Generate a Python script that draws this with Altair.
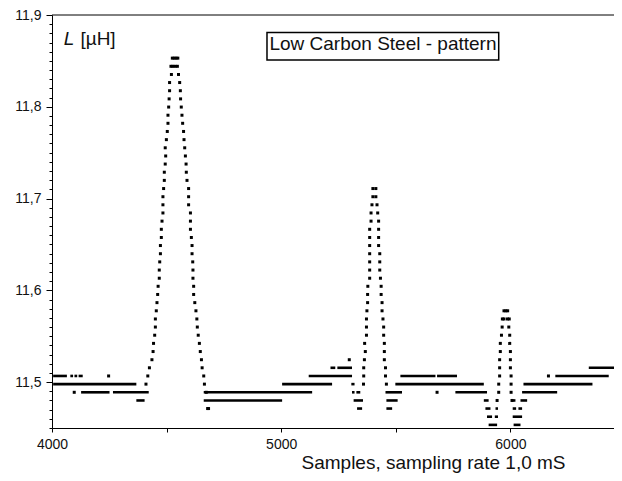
import altair as alt
import pandas as pd

# Quantised inductance levels [µH], index 0 = top of peak 1
LEVELS = [11.8530, 11.8441, 11.8352, 11.8264, 11.8175, 11.8086, 11.7997, 11.7908, 11.7820, 11.7731,
          11.7642, 11.7553, 11.7464, 11.7376, 11.7287, 11.7198, 11.7109, 11.7020, 11.6932, 11.6843,
          11.6754, 11.6665, 11.6576, 11.6488, 11.6399, 11.6310, 11.6221, 11.6132, 11.6044, 11.5955,
          11.5866, 11.5777, 11.5688, 11.5600, 11.5511, 11.5422, 11.5333, 11.5244, 11.5156, 11.5067,
          11.4978, 11.4889, 11.4800, 11.4712, 11.4623, 11.4534]

# Flat runs of samples: level index, first sample, last sample
RUN_LEVEL = [39, 39, 39, 39, 39, 39, 39, 39,
             40, 40, 40, 40, 40,
             41, 41, 41, 41, 41, 41, 41, 41,
             42, 42, 42, 42, 42, 42, 42,
             43, 43, 43, 43, 43, 43,
             44, 44, 44,
             45, 45,
             38, 38, 38]
RUN_START = [4005, 4080, 4098, 4116, 5120, 5520, 5680, 6196,
             4005, 5004, 5306, 5498, 6057,
             4127, 4266, 4662, 5309, 5328, 5455, 5760, 6051,
             4368, 4662, 5316, 5459, 5884, 6007, 6044,
             5331, 5459, 5891, 5935, 6010, 6035,
             5898, 5932, 6010,
             5905, 6014,
             5215, 5245, 6342]
RUN_END = [4065, 4092, 4110, 4134, 5309, 5673, 5767, 6429,
           4368, 5222, 5320, 5884, 6358,
           4251, 4422, 5135, 5320, 5345, 5527, 5898, 6204,
           4404, 5004, 5357, 5508, 5905, 6022, 6073,
           5353, 5484, 5913, 5946, 6025, 6051,
           5920, 5946, 6051,
           5942, 6044,
           5236, 5309, 6490]

# Isolated samples: level index, sample
SINGLE_LEVEL = [39, 41, 41, 41, 39, 37, 37, 43, 0, 0, 1, 1, 31, 32, 32, 41, 43]
SINGLE_X = [4247, 4097, 5680, 6484, 6166, 5297, 6467, 4679, 4533, 4541, 4527, 4537, 5980, 5972, 5987, 4673, 4683]

# Peak flanks: sample position for consecutive levels starting at first level
PEAK1_FIRST = 0
PEAK1_LEFT = [4525, 4519, 4521, 4513, 4513, 4511, 4509, 4506, 4506, 4503,
              4499, 4494, 4496, 4494, 4490, 4490, 4487, 4484, 4484, 4484,
              4480, 4477, 4477, 4473, 4473, 4470, 4468, 4468, 4463, 4461,
              4458, 4455, 4451, 4451, 4448, 4443, 4441, 4436, 4425, 4418, 4410]
PEAK1_RIGHT = [4549, 4547, 4552, 4557, 4560, 4561, 4564, 4567, 4570, 4574,
               4576, 4579, 4582, 4585, 4586, 4589, 4596, 4596, 4596, 4604,
               4604, 4604, 4608, 4611, 4611, 4614, 4615, 4615, 4618, 4618,
               4623, 4628, 4632, 4634, 4638, 4643, 4647, 4652, 4655, 4662, 4665]

PEAK2_FIRST = 16
PEAK2_LEFT = [5400, 5400, 5396, 5392, 5392, 5386, 5386, 5386, 5386, 5386,
              5386, 5386, 5378, 5377, 5377, 5374, 5372, 5372, 5372, 5364,
              5367, 5363, 5360, 5360, 5359]
PEAK2_RIGHT = [5413, 5413, 5418, 5421, 5425, 5425, 5425, 5425, 5430, 5430,
               5430, 5433, 5436, 5436, 5440, 5440, 5444, 5447, 5447, 5450,
               5450, 5450, 5455, 5455, 5459]

PEAK3_FIRST = 31
PEAK3_LEFT = [5972, 5965, 5964, 5961, 5956, 5956, 5953, 5953, 5953, 5949, 5949, 5942]
PEAK3_RIGHT = [5988, 5995, 5993, 5997, 5997, 6000, 6000, 6000, 6003, 6003, 6003, 6007]

X_DOMAIN = [4000, 6452]
Y_DOMAIN = [11.45, 11.9]
X_TICKS = [4000, 4500, 5000, 5500, 6000]
X_LABELED = [4000, 5000, 6000]
Y_TICKS = [11.45, 11.46, 11.47, 11.48, 11.49, 11.5, 11.51, 11.52, 11.53, 11.54, 11.55,
           11.56, 11.57, 11.58, 11.59, 11.6, 11.61, 11.62, 11.63, 11.64, 11.65, 11.66,
           11.67, 11.68, 11.69, 11.7, 11.71, 11.72, 11.73, 11.74, 11.75, 11.76, 11.77,
           11.78, 11.79, 11.8, 11.81, 11.82, 11.83, 11.84, 11.85, 11.86, 11.87, 11.88,
           11.89, 11.9]

runs = pd.DataFrame({
    "x": RUN_START,
    "x2": RUN_END,
    "y": [LEVELS[i] for i in RUN_LEVEL],
})

px, py = [], []
for lv, xv in zip(SINGLE_LEVEL, SINGLE_X):
    px.append(xv); py.append(LEVELS[lv])
for first, left, right in [(PEAK1_FIRST, PEAK1_LEFT, PEAK1_RIGHT),
                           (PEAK2_FIRST, PEAK2_LEFT, PEAK2_RIGHT),
                           (PEAK3_FIRST, PEAK3_LEFT, PEAK3_RIGHT)]:
    for k, xv in enumerate(left):
        px.append(xv); py.append(LEVELS[first + k])
    for k, xv in enumerate(right):
        px.append(xv); py.append(LEVELS[first + k])
points = pd.DataFrame({"x": px, "y": py})

FONT = "Liberation Sans"
xscale = alt.Scale(domain=X_DOMAIN, nice=False, zero=False)
yscale = alt.Scale(domain=Y_DOMAIN, nice=False, zero=False)

major_test = "abs(datum.value*10 - round(datum.value*10)) < 0.001"

x_axis = alt.Axis(
    values=X_TICKS, tickCount=100, format="d",
    labelExpr="indexof(%s, datum.value) >= 0 ? datum.label : ''" % str(X_LABELED),
    labelOverlap=False, labelFlush=False, labelBound=False,
    tickSize=4, labelPadding=5, labelFont=FONT, labelFontSize=14, labelColor="#111",
    domainColor="black", tickColor="black", grid=False,
    title="Samples, sampling rate 1,0 mS", titleFont=FONT, titleFontSize=19,
    titleFontWeight="normal", titleColor="#111", titleAlign="center",
    titleBaseline="alphabetic", titleX=381, titleY=40,
)
y_axis = alt.Axis(
    values=Y_TICKS, tickCount=100,
    labelExpr=major_test + " ? replace(format(datum.value, '.1f'), '.', ',') : ''",
    labelOverlap=False, labelFlush=False, labelBound=False,
    tickSize={"condition": {"test": major_test, "value": 6}, "value": 3},
    labelPadding=5, labelFont=FONT, labelFontSize=14, labelColor="#111",
    domainColor="black", tickColor="black", grid=False, title=None,
)

base_runs = alt.Chart(runs).mark_rule(color="black", strokeWidth=2.6, strokeCap="butt").encode(
    x=alt.X("x:Q", scale=xscale, axis=x_axis),
    x2="x2:Q",
    y=alt.Y("y:Q", scale=yscale, axis=y_axis),
)
pts = alt.Chart(points).mark_square(color="black", size=9, opacity=1).encode(
    x=alt.X("x:Q", scale=xscale),
    y=alt.Y("y:Q", scale=yscale),
)
top_line = alt.Chart().mark_rule(color="black", strokeWidth=1).encode(y=alt.datum(11.9))

box = alt.Chart().mark_rect(fill="white", stroke="black", strokeWidth=1.5).encode(
    x=alt.datum(4938), x2=alt.datum(5949), y=alt.datum(11.8809), y2=alt.datum(11.8510)
)
box_text = alt.Chart().mark_text(font=FONT, fontSize=19, color="#111", align="center",
                                 baseline="alphabetic").encode(
    x=alt.datum(5444), y=alt.datum(11.8615), text=alt.value("Low Carbon Steel - pattern")
)
lab_L = alt.Chart().mark_text(font=FONT, fontSize=19, fontStyle="italic", color="#111",
                              align="left", baseline="alphabetic").encode(
    x=alt.datum(4051), y=alt.datum(11.8673), text=alt.value("L")
)
lab_unit = alt.Chart().mark_text(font=FONT, fontSize=19, color="#111",
                                 align="left", baseline="alphabetic").encode(
    x=alt.datum(4124), y=alt.datum(11.8673), text=alt.value("[µH]")
)

chart = alt.layer(base_runs, pts, top_line, box, box_text, lab_L, lab_unit).properties(
    width=562, height=413,
    autosize=alt.AutoSizeParams(type="none"),
    padding={"left": 44, "top": 7, "right": 0, "bottom": 45},
    background="white",
).configure_view(strokeWidth=0)

chart.save("out.html", embed_options={"renderer": "svg", "actions": False})
